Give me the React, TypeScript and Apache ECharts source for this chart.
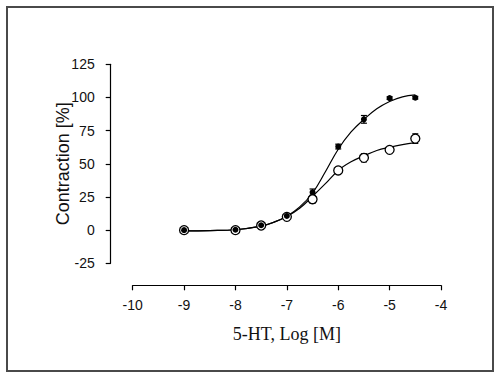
import React, { useEffect, useRef } from "react";
import * as echarts from "echarts";

// Measured points
const doseX = [-9, -8, -7.5, -7, -6.5, -6, -5.5, -5, -4.5];
const filledMean = [0, 0.3, 3.7, 10.7, 28.5, 63, 83.5, 99.5, 99.8];
const filledErr = [0.5, 0.5, 0.8, 1, 2.5, 1.8, 2.9, 1, 1];
const openMean = [0, 0, 3.5, 10, 23.3, 45, 54.5, 60.5, 69];
const openErr = [0.5, 0.5, 0.8, 1, 3, 1.5, 3, 1.5, 3.6];

// Fitted curves
const curveX = [-9, -8.5, -8, -7.5, -7.25, -7, -6.75, -6.5, -6.25, -6, -5.75, -5.5, -5.25, -5, -4.75, -4.5];
const filledCurve = [-0.5, -0.3, 0.3, 3, 6, 10.5, 17.5, 28, 44, 61, 74, 83.5, 91.5, 97, 100.5, 102];
const openCurve = [-0.5, -0.3, 0.3, 3, 6, 10.3, 16.5, 25.5, 35, 45, 51.5, 56, 60, 62.5, 64.5, 66];

const xTicks = { min: -10, max: -4, interval: 1 };
const yTicks = { min: -25, max: 125, interval: 25 };

const sans = "'Liberation Sans', Arial, sans-serif";
const serif = "'Liberation Serif', 'Times New Roman', serif";

function errRender(params: any, api: any) {
  const x = api.value(0);
  const lo = api.value(1);
  const hi = api.value(2);
  const top = api.coord([x, hi]);
  const bot = api.coord([x, lo]);
  const w = 3;
  const style = { stroke: "#000", lineWidth: 1.2 };
  return {
    type: "group",
    children: [
      { type: "line", shape: { x1: top[0], y1: top[1], x2: bot[0], y2: bot[1] }, style },
      { type: "line", shape: { x1: top[0] - w, y1: top[1], x2: top[0] + w, y2: top[1] }, style },
      { type: "line", shape: { x1: bot[0] - w, y1: bot[1], x2: bot[0] + w, y2: bot[1] }, style },
    ],
  };
}

export default function App() {
  const ref = useRef<HTMLDivElement>(null);
  useEffect(() => {
    if (!ref.current) return;
    const chart = echarts.init(ref.current, undefined, { renderer: "svg" });
    const axisCommon = {
      axisLine: { show: true, onZero: false, lineStyle: { color: "#000", width: 1.2 } },
      axisTick: { show: true, inside: false, length: 5, lineStyle: { color: "#000", width: 1.2 } },
      splitLine: { show: false },
    };
    chart.setOption({
      animation: false,
      backgroundColor: "#fff",
      graphic: [
        {
          type: "rect",
          shape: { x: 7, y: 7, width: 486, height: 364 },
          style: { fill: "none", stroke: "#4a4a4a", lineWidth: 2 },
          silent: true,
        },
      ],
      grid: { left: 132.7, right: 59, top: 64.3, bottom: 116.7 },
      xAxis: {
        type: "value",
        ...xTicks,
        offset: 22,
        ...axisCommon,
        axisLabel: { color: "#111", fontSize: 14, fontFamily: sans, margin: 13 },
        name: "5-HT, Log [M]",
        nameLocation: "middle",
        nameGap: 40,
        nameMoveOverlap: false,
        nameTextStyle: { color: "#111", fontSize: 18, fontFamily: serif },
      },
      yAxis: {
        type: "value",
        ...yTicks,
        offset: 22,
        ...axisCommon,
        axisLabel: { color: "#111", fontSize: 14, fontFamily: sans, margin: 16 },
        name: "Contraction [%]",
        nameLocation: "middle",
        nameGap: 39,
        nameMoveOverlap: false,
        nameTextStyle: { color: "#111", fontSize: 18, fontFamily: sans },
      },
      series: [
        {
          type: "line",
          data: curveX.map((x, i) => [x, openCurve[i]]),
          showSymbol: false,
          smooth: 0.4,
          lineStyle: { color: "#000", width: 1.2 },
          z: 1,
        },
        {
          type: "line",
          data: curveX.map((x, i) => [x, filledCurve[i]]),
          showSymbol: false,
          smooth: 0.4,
          lineStyle: { color: "#000", width: 1.2 },
          z: 1,
        },
        {
          type: "custom",
          renderItem: errRender,
          data: doseX.map((x, i) => [x, openMean[i] - openErr[i], openMean[i] + openErr[i]]),
          encode: { x: 0, y: [1, 2] },
          z: 2,
        },
        {
          type: "custom",
          renderItem: errRender,
          data: doseX.map((x, i) => [x, filledMean[i] - filledErr[i], filledMean[i] + filledErr[i]]),
          encode: { x: 0, y: [1, 2] },
          z: 2,
        },
        {
          type: "scatter",
          data: doseX.map((x, i) => [x, openMean[i]]),
          symbol: "circle",
          symbolSize: 9,
          itemStyle: { color: "#fff", opacity: 1, borderColor: "#000", borderWidth: 1.3 },
          z: 3,
        },
        {
          type: "scatter",
          data: doseX.map((x, i) => [x, filledMean[i]]),
          symbol: "circle",
          symbolSize: 6,
          itemStyle: { color: "#000", opacity: 1 },
          z: 4,
        },
      ],
    });
    return () => chart.dispose();
  }, []);
  return (
    <div
      ref={ref}
      style={{ position: "fixed", left: 0, top: 0, width: 500, height: 380 }}
    />
  );
}
